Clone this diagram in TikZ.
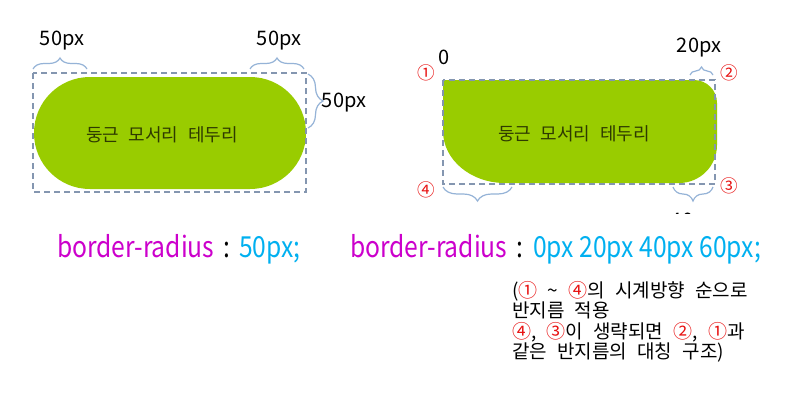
\documentclass[tikz,border=0pt]{standalone}
\usepackage{fontspec}
\setmainfont{Noto Sans CJK KR}
\newfontfamily\csfont[FakeStretch=0.85]{Noto Sans CJK KR}
\newfontfamily\krwide[WordSpace=2.0]{Noto Sans CJK KR}
\newfontfamily\krnote[WordSpace=2.4]{Noto Sans CJK KR}
\usetikzlibrary{decorations.pathreplacing}
\definecolor{limefill}{HTML}{99CC00}
\definecolor{dashcol}{HTML}{8496B0}
\definecolor{bracecol}{HTML}{95B3D7}
\definecolor{magcol}{HTML}{CC00CC}
\definecolor{cyancol}{HTML}{00B0F0}
\definecolor{numred}{HTML}{E81010}
\definecolor{inner}{HTML}{2E3A00}
\tikzset{
  dashbox/.style={draw=dashcol, line width=1.3pt, dash pattern=on 6pt off 4pt},
  bracedeco/.style={draw=bracecol, line width=1.2pt, decorate, decoration={brace, amplitude=#1}},
  lbl/.style={font=\fontsize{20}{22}\selectfont, inner sep=0pt},
  circnum/.style={font=\fontsize{17.5}{19}\selectfont, text=numred, inner sep=0pt},
  innertext/.style={font=\krwide\fontsize{18}{20}\selectfont, text=inner, inner sep=0pt},
  csstext/.style={font=\csfont\fontsize{29}{32}\selectfont, inner sep=0pt, anchor=base west},
}
\begin{document}
\begin{tikzpicture}[x=1pt,y=-1pt]
\useasboundingbox[fill=white] (0,0) rectangle (799,410);

% ---------- left figure ----------
\fill[limefill, rounded corners=55.9pt] (34,77) rectangle (306,189);
\draw[dashbox] (33,73) rectangle (306,192);
\node[innertext] (t1) at (162,135) {둥근 모서리 테두리};

\draw[bracedeco=11pt] (33,69) -- (87,69);
\draw[bracedeco=11pt] (250,69) -- (304,69);
\draw[bracedeco=15pt] (308,74) -- (308,128);
\node[lbl] (l1) at (62,41) {50px};
\node[lbl] (l2) at (279,41) {50px};
\node[lbl] (l3) at (344,103) {50px};

% ---------- right figure ----------
\fill[limefill] (443,80) -- (694,80)
  arc[start angle=-90, end angle=0, radius=23]
  -- (717,145)
  arc[start angle=0, end angle=90, radius=38]
  -- (505,183)
  arc[start angle=90, end angle=180, x radius=62, y radius=52]
  -- cycle;
\draw[dashbox] (443,80) rectangle (715,184);
\node[innertext] (t2) at (574,134) {둥근 모서리 테두리};

\node[lbl] (zero) at (444,57) {0};
\node[lbl] (l20) at (699,48) {20px};
\draw[bracedeco=8pt] (690,75) -- (713,75);
\draw[bracedeco=14pt] (512,187) -- (443,187);
\draw[bracedeco=14pt] (713,187) -- (673,187);
\begin{scope}
  \clip (650,200) rectangle (740,213.5);
  \node[lbl, anchor=base] (l40) at (693,227) {40px};
\end{scope}

\node[circnum] (c1) at (426,73) {①};
\node[circnum] (c2) at (729,73) {②};
\node[circnum] (c3) at (729,186) {③};
\node[circnum] (c4) at (426,190) {④};

% ---------- css lines ----------
\node[csstext] (css1) at (57,257) {\textcolor{magcol}{border-radius}\hspace{9pt}:\hspace{9pt}\textcolor{cyancol}{50px;}};
\node[csstext] (css2) at (350,257) {\textcolor{magcol}{border-radius}\hspace{9pt}:\hspace{10pt}\textcolor{cyancol}{0px 20px 40px 60px;}};

% ---------- note ----------
\node[anchor=north west, align=left, inner sep=0pt,
      font=\krnote\fontsize{19}{20.5}\selectfont] (note) at (512,281)
  {(\textcolor{numred}{①} \textasciitilde{} \textcolor{numred}{④}의 시계방향 순으로\\
   반지름 적용\\
   \textcolor{numred}{④}, \textcolor{numred}{③}이 생략되면 \textcolor{numred}{②}, \textcolor{numred}{①}과\\
   같은 반지름의 대칭 구조)};
\end{tikzpicture}
\end{document}
